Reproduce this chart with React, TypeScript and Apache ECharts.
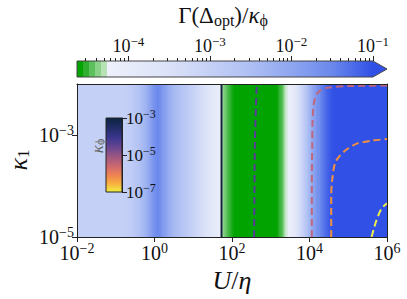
import React, { useEffect, useRef } from 'react';
import * as echarts from 'echarts';

// ---- data ----
const xTickLogs = [-2, 0, 2, 4, 6];
const yTickLogs = [-5, -3];
const cbarTickLogs = [-4, -3, -2, -1];
const insetTickLogs = [-7, -5, -3];

// log10(U/eta) sample positions and log10(Gamma(Delta_opt)/kappa_phi) values
const fieldLogU = [-2.0, -0.8, -0.6, -0.4, -0.2, -0.05, 0.08, 0.2, 0.35, 0.5, 0.7, 0.9, 1.1, 1.3, 1.5, 1.65, 1.72, 1.77, 1.85, 1.95, 2.05, 2.13, 3.15, 3.22, 3.3, 3.36, 3.45, 3.55, 3.65, 3.75, 3.85, 3.95, 4.05, 4.15, 4.25, 4.35, 4.45, 4.55, 4.65, 6.0];
const fieldLogGamma = [-3.0, -3.0, -2.85, -2.6, -2.2, -1.75, -1.5, -1.75, -2.1, -2.4, -2.65, -2.9, -3.2, -3.5, -3.85, -4.05, -4.15, -4.35, -4.42, -4.5, -4.58, -4.66, -4.66, -4.55, -4.42, -4.3, -4.15, -4.0, -3.7, -3.3, -2.9, -2.5, -2.1, -1.8, -1.55, -1.35, -1.18, -1.05, -1.0, -1.0];

// contours of kappa_phi, points as [log10(U/eta), log10(kappa_1)]
const blackContour = [[1.73, -5], [1.73, -2]];
const purpleContour = [[2.57, -5], [2.58, -4], [2.59, -3.2], [2.61, -2.6], [2.64, -2]];
const pinkContour = [[4.06, -5], [4.06, -4], [4.07, -3.2], [4.08, -2.7], [4.11, -2.4], [4.17, -2.22], [4.27, -2.13], [4.5, -2.07], [5.0, -2.04], [6.0, -2.03]];
const orangeContour = [[4.56, -5], [4.56, -4.2], [4.59, -3.85], [4.66, -3.55], [4.78, -3.41], [4.95, -3.29], [5.22, -3.17], [5.6, -3.11], [6.0, -3.08]];
const yellowContour = [[5.6, -5], [5.66, -4.84], [5.73, -4.67], [5.86, -4.44], [6.0, -4.34]];

const CB_MIN = -4.63;
const CB_MAX = -1;

const FONT = "Liberation Serif";

const greenBands: [number, number, string][] = [
  [-4.63, -4.556, '#00a300'],
  [-4.556, -4.482, '#2eb02e'],
  [-4.482, -4.408, '#5cc15c'],
  [-4.408, -4.334, '#8ad28a'],
  [-4.334, -4.26, '#b6e2b6'],
];
const blueStops: [number, string][] = [
  [-4.26, '#eef1fb'],
  [-3.5, '#dbe2f8'],
  [-3.0, '#c5d0f6'],
  [-2.5, '#adbff3'],
  [-2.0, '#8fa6f0'],
  [-1.5, '#6a88ec'],
  [-1.0, '#3050e6'],
];

function hexToRgb(h: string) {
  const n = parseInt(h.slice(1), 16);
  return [(n >> 16) & 255, (n >> 8) & 255, n & 255];
}
function mix(a: string, b: string, t: number) {
  const A = hexToRgb(a), B = hexToRgb(b);
  const c = A.map((x, i) => Math.round(x + (B[i] - x) * t));
  return `rgb(${c[0]},${c[1]},${c[2]})`;
}
function colorOf(v: number) {
  if (v < -4.26) {
    for (const [, b, c] of greenBands) if (v < b) return c;
    return greenBands[greenBands.length - 1][2];
  }
  if (v >= -1) return '#3050e6';
  for (let i = 0; i < blueStops.length - 1; i++) {
    const [a, ca] = blueStops[i];
    const [b, cb] = blueStops[i + 1];
    if (v >= a && v <= b) return mix(ca, cb, (v - a) / (b - a));
  }
  return '#3050e6';
}

const supLabel = (v: number) => {
  const e = Math.round(v);
  return `{b|10}{s|${e < 0 ? '\u2212' + -e : e}}`;
};

const makeLabel = (base: number, sup: number, extra: any) => ({
  fontSize: base,
  fontFamily: FONT,
  color: '#111',
  formatter: supLabel,
  rich: {
    b: { fontSize: base, fontFamily: FONT, color: '#111', lineHeight: base + 3 },
    s: { fontSize: sup, fontFamily: FONT, color: '#111', lineHeight: sup + 1, verticalAlign: 'top' },
  },
  ...extra,
});

export default function App() {
  const ref = useRef<HTMLDivElement>(null);
  useEffect(() => {
    const chart = echarts.init(ref.current!, null, { renderer: 'svg' });

    const fieldSegments = fieldLogU.slice(0, -1).map((u, i) => [
      u, -3.5, fieldLogU[i + 1], fieldLogGamma[i], fieldLogGamma[i + 1],
    ]);

    const minorTicks: number[] = [];
    for (let d = -5; d <= -2; d++) {
      for (let k = 2; k <= 9; k++) {
        const t = d + Math.log10(k);
        if (t > CB_MIN && t < CB_MAX) minorTicks.push(t);
      }
    }

    const span = CB_MAX - CB_MIN;
    const cbStops: { offset: number; color: string }[] = [];
    greenBands.forEach(([a, b, c]) => {
      cbStops.push({ offset: (a - CB_MIN) / span, color: c });
      cbStops.push({ offset: (b - CB_MIN) / span, color: c });
    });
    blueStops.forEach(([a, c]) => cbStops.push({ offset: (a - CB_MIN) / span, color: c }));

    const contour = (data: number[][], color: string, dashed = true, width = 2) => ({
      type: 'line',
      xAxisIndex: 0,
      yAxisIndex: 0,
      data,
      showSymbol: false,
      symbol: 'none',
      smooth: 0.3,
      z: 5,
      lineStyle: { color, width, type: dashed ? [7, 4] : 'solid' },
    });

    const frameAxis = { show: true, onZero: false, lineStyle: { color: '#222', width: 1 } };

    const option: any = {
      animation: false,
      grid: [
        { left: 77, top: 84, width: 310, height: 153 },
        { left: 77, top: 61, width: 296, height: 16 },
        { left: 106, top: 118, width: 16, height: 74 },
      ],
      xAxis: [
        {
          gridIndex: 0, type: 'value', min: -2, max: 6, z: 10,
          axisLine: frameAxis,
          axisTick: { show: true, customValues: xTickLogs, length: 5, lineStyle: { color: '#222' } },
          axisLabel: makeLabel(20, 14, { customValues: xTickLogs, margin: 4 }),
          splitLine: { show: false },
        },
        {
          gridIndex: 0, type: 'value', min: -2, max: 6, position: 'top', z: 10,
          axisLine: frameAxis,
          axisTick: { show: false }, axisLabel: { show: false }, splitLine: { show: false },
        },
        {
          gridIndex: 1, type: 'value', min: CB_MIN, max: CB_MAX, position: 'top', z: 10,
          axisLine: { show: false, onZero: false },
          axisTick: { show: true, customValues: cbarTickLogs, length: 5, lineStyle: { color: '#222' } },
          axisLabel: makeLabel(18, 13, { customValues: cbarTickLogs, margin: 5 }),
          splitLine: { show: false },
        },
        {
          gridIndex: 1, type: 'value', min: CB_MIN, max: CB_MAX, position: 'top', z: 10,
          axisLine: { show: false, onZero: false },
          axisTick: { show: true, customValues: minorTicks, length: 3, lineStyle: { color: '#222' } },
          axisLabel: { show: false }, splitLine: { show: false },
        },
        { gridIndex: 2, type: 'value', min: 0, max: 1, show: false, axisLine: { onZero: false } },
      ],
      yAxis: [
        {
          gridIndex: 0, type: 'value', min: -5, max: -2, z: 10,
          axisLine: frameAxis,
          axisTick: { show: true, customValues: yTickLogs, length: 5, lineStyle: { color: '#222' } },
          axisLabel: makeLabel(20, 14, { customValues: yTickLogs, margin: 3 }),
          splitLine: { show: false },
        },
        {
          gridIndex: 0, type: 'value', min: -5, max: -2, position: 'right', z: 10,
          axisLine: frameAxis,
          axisTick: { show: false }, axisLabel: { show: false }, splitLine: { show: false },
        },
        { gridIndex: 1, type: 'value', min: 0, max: 1, show: false, axisLine: { onZero: false } },
        {
          gridIndex: 2, type: 'value', min: -7, max: -3, position: 'right', z: 10,
          axisLine: frameAxis,
          axisTick: { show: true, customValues: insetTickLogs, length: 5, lineStyle: { color: '#222' } },
          axisLabel: makeLabel(17, 12, { customValues: insetTickLogs, margin: 4 }),
          splitLine: { show: false },
        },
      ],
      series: [
        {
          type: 'custom',
          xAxisIndex: 0,
          yAxisIndex: 0,
          clip: true,
          z: 1,
          encode: { x: [0, 2], y: 1 },
          data: fieldSegments,
          renderItem: (params: any, api: any) => {
            const x0 = api.value(0), x1 = api.value(2);
            const v0 = api.value(3), v1 = api.value(4);
            const p0 = api.coord([x0, -2]);
            const p1 = api.coord([x1, -5]);
            return {
              type: 'rect',
              shape: { x: p0[0], y: p0[1], width: p1[0] - p0[0] + 0.6, height: p1[1] - p0[1] },
              style: {
                fill: new echarts.graphic.LinearGradient(0, 0, 1, 0, [
                  { offset: 0, color: colorOf(v0) },
                  { offset: 1, color: colorOf(v1) },
                ]),
              },
            };
          },
        },
        contour(purpleContour, '#5a3b9a'),
        contour(pinkContour, '#c0677e'),
        contour(orangeContour, '#f39040'),
        contour(yellowContour, '#eeee48'),
        contour(blackContour, '#0f2233', false, 2),
        {
          type: 'custom',
          xAxisIndex: 2,
          yAxisIndex: 2,
          clip: false,
          z: 3,
          data: [[CB_MIN, CB_MAX]],
          encode: { x: [0, 1] },
          renderItem: (params: any, api: any) => {
            const p0 = api.coord([CB_MIN, 1]);
            const p1 = api.coord([CB_MAX, 0]);
            const mid = (p0[1] + p1[1]) / 2;
            const tip = p1[0] + 14;
            return {
              type: 'group',
              children: [
                {
                  type: 'rect',
                  shape: { x: p0[0], y: p0[1], width: p1[0] - p0[0], height: p1[1] - p0[1] },
                  style: { fill: new echarts.graphic.LinearGradient(0, 0, 1, 0, cbStops) },
                },
                {
                  type: 'polygon',
                  shape: { points: [[p1[0] - 0.5, p0[1]], [tip, mid], [p1[0] - 0.5, p1[1]]] },
                  style: { fill: '#3050e6' },
                },
                {
                  type: 'polyline',
                  shape: { points: [[p0[0], p0[1]], [p1[0], p0[1]], [tip, mid], [p1[0], p1[1]], [p0[0], p1[1]], [p0[0], p0[1]]] },
                  style: { fill: 'none', stroke: '#444', lineWidth: 1 },
                },
              ],
            };
          },
        },
        {
          type: 'custom',
          xAxisIndex: 4,
          yAxisIndex: 3,
          clip: false,
          z: 8,
          data: [[0.5, -5]],
          renderItem: (params: any, api: any) => {
            const p0 = api.coord([0, -3]);
            const p1 = api.coord([1, -7]);
            return {
              type: 'rect',
              shape: { x: p0[0], y: p0[1], width: p1[0] - p0[0], height: p1[1] - p0[1] },
              style: {
                stroke: '#222',
                lineWidth: 1,
                fill: new echarts.graphic.LinearGradient(0, 0, 0, 1, [
                  { offset: 0, color: '#0c2442' },
                  { offset: 0.12, color: '#1f2b62' },
                  { offset: 0.27, color: '#3c3690' },
                  { offset: 0.4, color: '#6a468f' },
                  { offset: 0.52, color: '#9c5781' },
                  { offset: 0.65, color: '#cc6870' },
                  { offset: 0.77, color: '#ee8252' },
                  { offset: 0.88, color: '#f8ac40' },
                  { offset: 1, color: '#f0f040' },
                ]),
              },
            };
          },
        },
      ],
      graphic: [
        {
          type: 'text', x: 223, y: 15, z: 20,
          style: {
            text: '{n|\u0393(\u0394}{sb|opt}{n|)/}{i|\u03ba}{sb|\u03d5}',
            align: 'center', verticalAlign: 'middle',
            rich: {
              n: { fontSize: 23, fontFamily: FONT, fill: '#111', lineHeight: 26 },
              i: { fontSize: 23, fontFamily: FONT, fontStyle: 'italic', fill: '#111', lineHeight: 26 },
              sb: { fontSize: 16, fontFamily: FONT, fill: '#111', lineHeight: 16, verticalAlign: 'bottom' },
            },
          },
        },
        {
          type: 'text', x: 232, y: 280, z: 20,
          style: {
            text: '{i|U}{n|/}{i|\u03b7}',
            align: 'center', verticalAlign: 'middle',
            rich: {
              n: { fontSize: 26, fontFamily: FONT, fill: '#111' },
              i: { fontSize: 26, fontFamily: FONT, fontStyle: 'italic', fill: '#111' },
            },
          },
        },
        {
          type: 'text', x: 18, y: 160, rotation: Math.PI / 2, z: 20,
          style: {
            text: '{i|\u03ba}{sb|1}',
            align: 'center', verticalAlign: 'middle',
            rich: {
              i: { fontSize: 26, fontFamily: FONT, fontStyle: 'italic', fill: '#111', lineHeight: 27 },
              sb: { fontSize: 17, fontFamily: FONT, fill: '#111', lineHeight: 17, verticalAlign: 'bottom' },
            },
          },
        },
        {
          type: 'text', x: 97, y: 146, rotation: Math.PI / 2, z: 20,
          style: {
            text: '{i|\u03ba}{sb|\u03d5}',
            align: 'center', verticalAlign: 'middle',
            rich: {
              i: { fontSize: 17, fontFamily: FONT, fontStyle: 'italic', fill: '#666', lineHeight: 18 },
              sb: { fontSize: 12, fontFamily: FONT, fill: '#666', lineHeight: 12, verticalAlign: 'bottom' },
            },
          },
        },
      ],
    };

    chart.setOption(option);
    return () => chart.dispose();
  }, []);

  return (
    <div
      ref={ref}
      style={{ position: 'fixed', left: 0, top: 0, width: 407, height: 299, background: '#fff' }}
    />
  );
}
